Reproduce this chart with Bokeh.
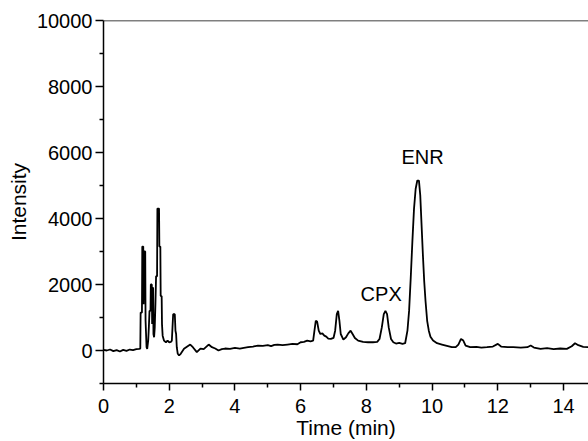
from bokeh.plotting import figure
from bokeh.models import FixedTicker, Span, Range1d
from bokeh.core.properties import value
from bokeh.embed import file_html
from bokeh.resources import INLINE

# retention time (min) and intensity
time_min = [0.00, 0.10, 0.20, 0.30, 0.40, 0.50, 0.60, 0.70, 0.80, 0.90, 1.00, 1.08, 1.12,
            1.13, 1.17, 1.18, 1.21, 1.22, 1.24, 1.27, 1.28, 1.31, 1.33, 1.36, 1.38, 1.40,
            1.43, 1.44, 1.47, 1.48, 1.49, 1.51, 1.52, 1.54, 1.56, 1.58, 1.60, 1.63, 1.64,
            1.69, 1.70, 1.73, 1.74, 1.77, 1.78, 1.80, 1.84, 1.90, 1.95, 2.00, 2.05, 2.08,
            2.10, 2.12, 2.17, 2.19, 2.21, 2.23, 2.26, 2.30, 2.35, 2.45, 2.55, 2.64, 2.72,
            2.84, 2.95, 3.05, 3.20, 3.30, 3.40, 3.50, 3.60, 3.70, 3.85, 4.00, 4.15, 4.27,
            4.40, 4.55, 4.70, 4.85, 5.00, 5.10, 5.20, 5.30, 5.45, 5.60, 5.75, 5.90, 6.00,
            6.10, 6.20, 6.30, 6.38, 6.42, 6.46, 6.50, 6.55, 6.60, 6.66, 6.72, 6.78, 6.84,
            6.92, 7.00, 7.05, 7.10, 7.14, 7.18, 7.22, 7.30, 7.38, 7.45, 7.52, 7.58, 7.65,
            7.75, 7.90, 8.05, 8.20, 8.33, 8.40, 8.47, 8.53, 8.58, 8.63, 8.68, 8.75, 8.82,
            8.90, 9.00, 9.10, 9.18, 9.25, 9.30, 9.35, 9.40, 9.45, 9.50, 9.55, 9.60, 9.64,
            9.68, 9.72, 9.76, 9.80, 9.85, 9.90, 9.95, 10.03, 10.15, 10.30, 10.45, 10.60,
            10.72, 10.80, 10.88, 10.95, 11.02, 11.16, 11.35, 11.50, 11.67, 11.85, 12.00,
            12.10, 12.30, 12.47, 12.70, 12.90, 13.00, 13.10, 13.30, 13.50, 13.70, 13.90,
            14.10, 14.25, 14.35, 14.45, 14.60, 14.76]
intensity = [20, 0, 30, -20, 10, -30, 20, -10, 30, 10, 40, 50, 60,
             1150, 1150, 3150, 3150, 1400, 3000, 3000, 900, 100, 50, 300, 700, 1200,
             1200, 2000, 2000, 800, 1900, 1900, 500, 400, 700, 1400, 2250, 2250, 4300,
             4300, 3150, 3150, 1650, 1650, 800, 450, 300, 250, 300, 250, 260, 300,
             700, 1100, 1100, 600, 500, 100, -100, -150, -100, 50, 120, 180, 100,
             -50, 60, 40, 180, 100, 60, 0, 40, 60, 50, 80, 60, 80,
             100, 120, 150, 140, 160, 130, 170, 180, 160, 180, 200, 190, 250,
             260, 300, 280, 300, 600, 900, 880, 600, 500, 520, 450, 420, 360,
             350, 380, 600, 1100, 1200, 900, 500, 330, 400, 520, 600, 500, 380,
             300, 260, 250, 250, 260, 350, 700, 1100, 1200, 1100, 700, 350, 250,
             210, 230, 200, 220, 600, 1200, 2200, 3300, 4300, 4900, 5150, 5150, 4700,
             3800, 2900, 2100, 1500, 900, 600, 420, 300, 220, 180, 140, 100,
             100, 180, 350, 300, 150, 100, 110, 90, 100, 120, 200,
             120, 100, 100, 90, 100, 150, 90, 50, 70, 40, 60,
             50, 130, 220, 160, 110, 100]

# peak annotations
label_text = ["CPX", "ENR"]
label_x = [8.45, 9.71]
label_y = [1720, 5860]

x_major = [0, 2, 4, 6, 8, 10, 12, 14]
x_minor = [1, 3, 5, 7, 9, 11, 13]
y_major = [0, 2000, 4000, 6000, 8000, 10000]
y_minor = [-1000, 1000, 3000, 5000, 7000, 9000]

x_title = "Time (min)"
y_title = "Intensity"

FONT = "Liberation Sans"

p = figure(width=588, height=441, output_backend="svg", toolbar_location=None,
           x_range=Range1d(0, 14.76), y_range=Range1d(-1000, 10000),
           min_border_left=103, min_border_right=0, min_border_top=20,
           min_border_bottom=58)
p.outline_line_color = None
p.xgrid.visible = False
p.ygrid.visible = False
p.background_fill_color = "white"
p.border_fill_color = "white"

p.line(time_min, intensity, line_color="black", line_width=1.8)
p.text(x=label_x, y=label_y, text=label_text, text_align="center",
       text_baseline="middle", text_font=value(FONT), text_font_size="20px",
       text_color="black")

p.add_layout(Span(location=10000, dimension="width", line_color="black",
                  line_width=1.5))

for ax in (p.xaxis[0], p.yaxis[0]):
    ax.axis_line_color = "black"
    ax.axis_line_width = 1.5
    ax.major_tick_line_color = "black"
    ax.minor_tick_line_color = "black"
    ax.major_tick_line_width = 1.5
    ax.minor_tick_line_width = 1.5
    ax.major_tick_in = 0
    ax.minor_tick_in = 0
    ax.major_label_text_font = FONT
    ax.major_label_text_font_size = "20px"
    ax.major_label_text_color = "black"
    ax.axis_label_text_font = FONT
    ax.axis_label_text_font_size = "21px"
    ax.axis_label_text_font_style = "normal"
    ax.axis_label_text_color = "black"

p.xaxis.ticker = FixedTicker(ticks=x_major, minor_ticks=x_minor)
p.yaxis.ticker = FixedTicker(ticks=y_major, minor_ticks=y_minor)
p.xaxis.axis_label = x_title
p.yaxis.axis_label = y_title
p.xaxis.major_tick_out = 7
p.xaxis.minor_tick_out = 4
p.yaxis.major_tick_out = 8
p.yaxis.minor_tick_out = 4
p.xaxis.major_label_standoff = 8
p.yaxis.major_label_standoff = 3
p.xaxis.axis_label_standoff = 0
p.yaxis.axis_label_standoff = 4

open("out.html", "w").write(file_html(p, INLINE))
